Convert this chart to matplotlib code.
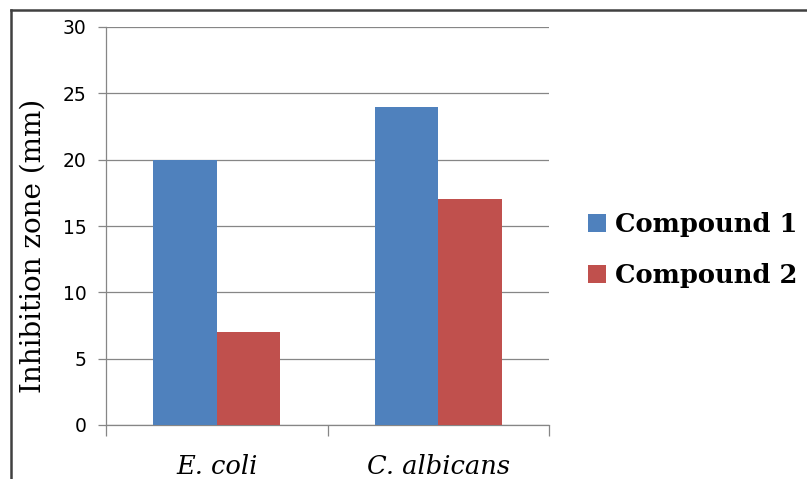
import matplotlib.pyplot as plt
import numpy as np

categories = ['E. coli', 'C. albicans']
series_names = ['Compound 1', 'Compound 2']
compound1 = [20, 24]
compound2 = [7, 17]
y_ticks = [0, 5, 10, 15, 20, 25, 30]

fig = plt.figure(figsize=(8.07, 4.79), dpi=100)

# outer chart border (clipped at right/bottom like the screenshot)
border = fig.add_axes([11/807, -0.05, 1.2, 1 - 9.5/479 + 0.05])
border.set_xticks([])
border.set_yticks([])
border.patch.set_alpha(0)
for s in border.spines.values():
    s.set_color('#404040')
    s.set_linewidth(1.8)

ax = fig.add_axes([106/807, 1 - 425/479, (549-106)/807, (425-27)/479])

x = np.arange(len(categories))
w = 1 / 3.5
ax.bar(x - w/2, compound1, w, color='#4F81BD', label=series_names[0], zorder=3)
ax.bar(x + w/2, compound2, w, color='#C0504D', label=series_names[1], zorder=3)

ax.set_xlim(-0.5, 1.5)
ax.set_ylim(0, 30)
ax.set_yticks(y_ticks)
ax.yaxis.grid(True, color='#868686', linewidth=0.9, zorder=0)
ax.set_xticks([-0.5, 0.5, 1.5], minor=False)
ax.set_xticklabels([])
ax.set_xticks(x, minor=True)
ax.set_xticklabels(categories, minor=True, fontfamily='DejaVu Serif',
                   fontstyle='italic', fontsize=18.5)
ax.tick_params(axis='x', which='minor', length=0, pad=21)
ax.tick_params(axis='x', which='major', length=8, color='#868686', width=0.9)
ax.tick_params(axis='y', length=6, color='#868686', width=0.9, labelsize=13.5,
               pad=8)

for side in ['top', 'right']:
    ax.spines[side].set_visible(False)
for side in ['left', 'bottom']:
    ax.spines[side].set_color('#868686')
    ax.spines[side].set_linewidth(0.9)

ax.set_ylabel('Inhibition zone (mm)', fontfamily='DejaVu Serif', fontsize=20)
ax.yaxis.set_label_coords(-0.135, 0.45)

leg = ax.legend(loc='center left', bbox_to_anchor=(1.035, 0.44), frameon=False,
                prop={'family': 'DejaVu Serif', 'weight': 'bold', 'size': 18.5},
                handlelength=0.7, handleheight=0.7, handletextpad=0.35,
                labelspacing=1.0)

fig.savefig('out.png', dpi=100)
